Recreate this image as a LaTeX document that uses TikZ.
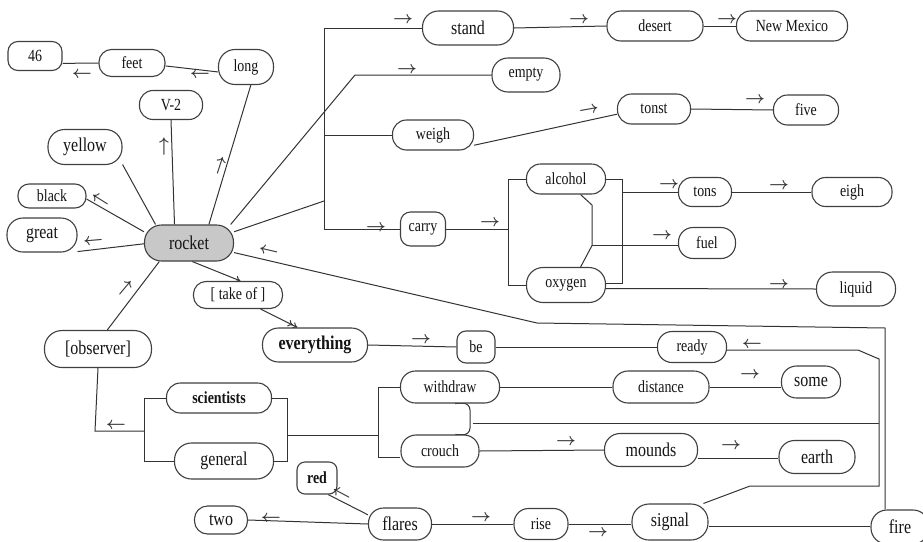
\documentclass[tikz,border=0pt]{standalone}
\usepackage{fontspec}
\setmainfont{Liberation Serif}[FakeStretch=0.82]
\usetikzlibrary{arrows.meta}
\pgfdeclarelayer{wires}
\pgfsetlayers{wires,main}
\newcommand\nodesm{\fontsize{17}{17}\selectfont}
\newcommand\nodebg{\fontsize{19.5}{19.5}\selectfont}
\definecolor{edge}{HTML}{333333}
\definecolor{rim}{HTML}{404040}
\definecolor{hub}{HTML}{C8C8C8}
\tikzset{
  pill/.style={draw=rim, line width=1.1pt, inner sep=0pt, fill=white, font=\nodesm, text=black!92},
  sz/.style n args={2}{minimum width=#1pt, minimum height=#2pt, rounded corners={(#2/2-1)*1pt}},
  big/.style={font=\nodebg},
  heavy/.style={font=\nodebg\bfseries},
  link/.style={draw=edge, line width=1pt},
  tip/.style={inner sep=0pt, font=\fontsize{16}{16}\selectfont\boldmath, text=edge},
}
\begin{document}
\begin{tikzpicture}[x=1pt, y=-1pt]
\useasboundingbox (0,0) rectangle (923,541);

% ---------- concept nodes ----------
\node[pill, sz={54}{29}, rounded corners=10pt] (n46) at (35,56) {46};
\node[pill, sz={66}{27}] (feet) at (132,63) {feet};
\node[pill, sz={55}{35}] (long) at (246,67) {long};
\node[pill, sz={63}{29}] (v2) at (171,105) {V-2};
\node[pill, sz={74}{35}, big] (yellow) at (85,147) {yellow};
\node[pill, sz={68}{24}] (black) at (52,196) {black};
\node[pill, sz={70}{34}, big] (great) at (42,235) {great};
\node[pill, sz={89}{36}, big, fill=hub] (rocket) at (189,243) {rocket};
\node[pill, sz={89}{27}] (takeof) at (238,295) {[ take of ]};
\node[pill, sz={105}{34}, heavy] (everything) at (315,345) {everything};
\node[pill, sz={107}{37}, big] (observer) at (98,349) {[observer]};
\node[pill, sz={105}{30}, font=\nodesm\bfseries] (scientists) at (219,398) {scientists};
\node[pill, sz={99}{36}, big] (general) at (224,461) {general};
\node[pill, sz={53}{28}, big] (two) at (221,520) {two};
\node[pill, sz={40}{32}, rounded corners=8pt, font=\nodesm\bfseries] (red) at (317,478) {red};
\node[pill, sz={63}{32}, big] (flares) at (400,524) {flares};
\node[pill, sz={54}{31}] (rise) at (541,524) {rise};
\node[pill, sz={76}{36}, big] (signal) at (670,522) {signal};
\node[pill, sz={58}{34}, big] (fire) at (900,527) {fire};
\node[pill, sz={78}{32}] (crouch) at (440,451) {crouch};
\node[pill, sz={99}{32}] (withdraw) at (450,387) {withdraw};
\node[pill, sz={38}{32}, rounded corners=9pt] (be) at (476,347) {be};
\node[pill, sz={69}{31}] (ready) at (692,347) {ready};
\node[pill, sz={96}{32}] (distance) at (661,387) {distance};
\node[pill, sz={59}{32}, big] (some) at (811,382) {some};
\node[pill, sz={93}{33}, big] (mounds) at (651,450) {mounds};
\node[pill, sz={76}{33}, big] (earth) at (817,457) {earth};
\node[pill, sz={91}{34}, big] (stand) at (468,28) {stand};
\node[pill, sz={68}{34}] (empty) at (526,75) {empty};
\node[pill, sz={81}{30}] (weigh) at (433,135) {weigh};
\node[pill, sz={96}{30}] (desert) at (655,26) {desert};
\node[pill, sz={111}{30}] (newmexico) at (792,26) {New Mexico};
\node[pill, sz={73}{30}] (tonst) at (654,109) {tonst};
\node[pill, sz={65}{30}] (five) at (806,110) {five};
\node[pill, sz={79}{30}] (alcohol) at (566,179) {alcohol};
\node[pill, sz={79}{35}] (oxygen) at (566,285) {oxygen};
\node[pill, sz={45}{34}, rounded corners=10pt] (carry) at (423,229) {carry};
\node[pill, sz={53}{29}] (tons) at (705,192) {tons};
\node[pill, sz={80}{29}] (eigh) at (852,192) {eigh};
\node[pill, sz={57}{31}] (fuel) at (707,243) {fuel};
\node[pill, sz={79}{34}] (liquid) at (856,289) {liquid};

% ---------- junction points ----------
\coordinate (kE) at (355,75);
\coordinate (trJ) at (324,201);
\coordinate (trTop) at (324,28);
\coordinate (cs) at (508,229);
\coordinate (rb) at (622,179);
\coordinate (f1) at (592,205);
\coordinate (fa) at (537,323);
\coordinate (fb) at (885,328);
\coordinate (r1) at (858,350);
\coordinate (r2) at (879,359);
\coordinate (r3) at (879,486);
\coordinate (r4) at (750,486);
\coordinate (wc1) at (470,403);
\coordinate (wc2) at (470,435);
\coordinate (wb) at (473,423);
\coordinate (lb) at (144,431);
\coordinate (ob) at (95,431);
\coordinate (rb2) at (287,435);
\coordinate (lb3) at (378,435);

% ---------- connectors (behind the boxes) ----------
\begin{pgfonlayer}{wires}
\begin{scope}[link]
\draw (n46.-15) -- (feet.west);
\draw (feet.-5) -- (long.190);
\draw (long.-75) -- (rocket.43);
\draw (v2.south) -- (rocket.128);
\draw (yellow.-25) -- (rocket.151);
\draw (black.-5) -- (rocket.166);
\draw (great.-25) -- (rocket.181);
\draw (observer.64) -- (rocket.212);
\draw[-{To[length=5pt,width=7pt]}] (rocket.-80) -- (takeof.80);
\draw[-{To[length=5pt,width=7pt]To[length=5pt,width=7pt]}] (takeof.-32) -- (everything.135);
\draw (rocket.24) -- (kE) -- (empty.west);
\draw (rocket.14) -- (trJ);
\draw (trTop) -- (trTop |- carry.west) -- (carry.west);
\draw (trTop) -- (stand.west);
\draw (trTop |- weigh.west) -- (weigh.west);
\draw (stand.east) -- (desert.west);
\draw (desert.east) -- (newmexico.west);
\draw (weigh.-14) -- (tonst.188);
\draw (tonst.east) -- (five.west);
\draw (carry.east) -- (cs);
\draw (cs |- alcohol.west) -- (cs |- oxygen.west);
\draw (cs |- alcohol.west) -- (alcohol.west);
\draw (cs |- oxygen.west) -- (oxygen.west);
\draw (alcohol.east) -- (rb |- alcohol.east) -- (rb |- oxygen.2) -- (oxygen.2);
\draw (rb |- tons.west) -- (tons.west);
\draw (tons.east) -- (eigh.west);
\draw (alcohol.-47) -- (f1) -- (f1 |- fuel.185) -- (oxygen.51);
\draw (f1 |- fuel.185) -- (fuel.185);
\draw (oxygen.-5) -- (liquid.west);
\draw (rocket.-12) -- (fa) -- (fb) -- (fb |- fire.north);
\draw (everything.east) -- (be.west);
\draw (be.east) -- (ready.west);
\draw (ready.-5) -- (r1) -- (r2) -- (r3) -- (r4) -- (signal.29);
\draw[rounded corners=7pt] (withdraw.-73) -- (wc1) -- (wc2) -- (crouch.47);
\draw (wb) -- (r2 |- wb);
\draw (withdraw.east) -- (distance.west);
\draw (distance.east) -- (some.west |- distance.east);
\draw (crouch.east) -- (mounds.west);
\draw (mounds.-10) -- (earth.west |- mounds.-10);
\draw (scientists.west) -- (lb |- scientists.west) -- (lb |- general.west) -- (general.west);
\draw (lb) -- (ob) -- (observer.south);
\draw (scientists.east) -- (rb2 |- scientists.east) -- (rb2 |- general.east) -- (general.east);
\draw (rb2) -- (lb3);
\draw (withdraw.west) -- (lb3 |- withdraw.west) -- (lb3 |- crouch.190) -- (crouch.190);
\draw (two.east) -- (flares.west);
\draw (flares.164) -- (red.-56);
\draw (flares.east) -- (rise.west);
\draw (rise.east) -- (signal.west |- rise.east);
\draw (signal.-6) -- (fire.west |- signal.-6);
\end{scope}
\end{pgfonlayer}

% ---------- direction marks ----------
\node[tip, rotate=180] (g1) at (82,73) {$\rightarrow$};
\node[tip, rotate=180] (g2) at (200,73) {$\rightarrow$};
\node[tip, rotate=72] (g3) at (221,166) {$\rightarrow$};
\node[tip, rotate=90] (g4) at (165,147) {$\rightarrow$};
\node[tip, rotate=148] (g5) at (101,199) {$\rightarrow$};
\node[tip, rotate=185] (g6) at (93,240) {$\rightarrow$};
\node[tip, rotate=50] (g7) at (126,289) {$\rightarrow$};
\node[tip] (g8) at (403,20) {$\rightarrow$};
\node[tip] (g9) at (407,70) {$\rightarrow$};
\node[tip] (g10) at (579,20) {$\rightarrow$};
\node[tip] (g11) at (727,20) {$\rightarrow$};
\node[tip, rotate=10] (g12) at (589,110) {$\rightarrow$};
\node[tip] (g13) at (755,100) {$\rightarrow$};
\node[tip] (g14) at (376,228) {$\rightarrow$};
\node[tip] (g15) at (490,223) {$\rightarrow$};
\node[tip] (g16) at (669,185) {$\rightarrow$};
\node[tip] (g17) at (779,186) {$\rightarrow$};
\node[tip] (g18) at (662,236) {$\rightarrow$};
\node[tip] (g19) at (779,285) {$\rightarrow$};
\node[tip, rotate=167] (g20) at (269,250) {$\rightarrow$};
\node[tip] (g21) at (421,340) {$\rightarrow$};
\node[tip, rotate=180] (g22) at (752,343) {$\rightarrow$};
\node[tip] (g23) at (750,375) {$\rightarrow$};
\node[tip] (g24) at (566,442) {$\rightarrow$};
\node[tip] (g25) at (731,446) {$\rightarrow$};
\node[tip, rotate=180] (g26) at (116,424) {$\rightarrow$};
\node[tip, rotate=180] (g27) at (271,517) {$\rightarrow$};
\node[tip, rotate=152] (g28) at (342,493) {$\rightarrow$};
\node[tip] (g29) at (481,518) {$\rightarrow$};
\node[tip] (g30) at (598,533) {$\rightarrow$};
\end{tikzpicture}
\end{document}
